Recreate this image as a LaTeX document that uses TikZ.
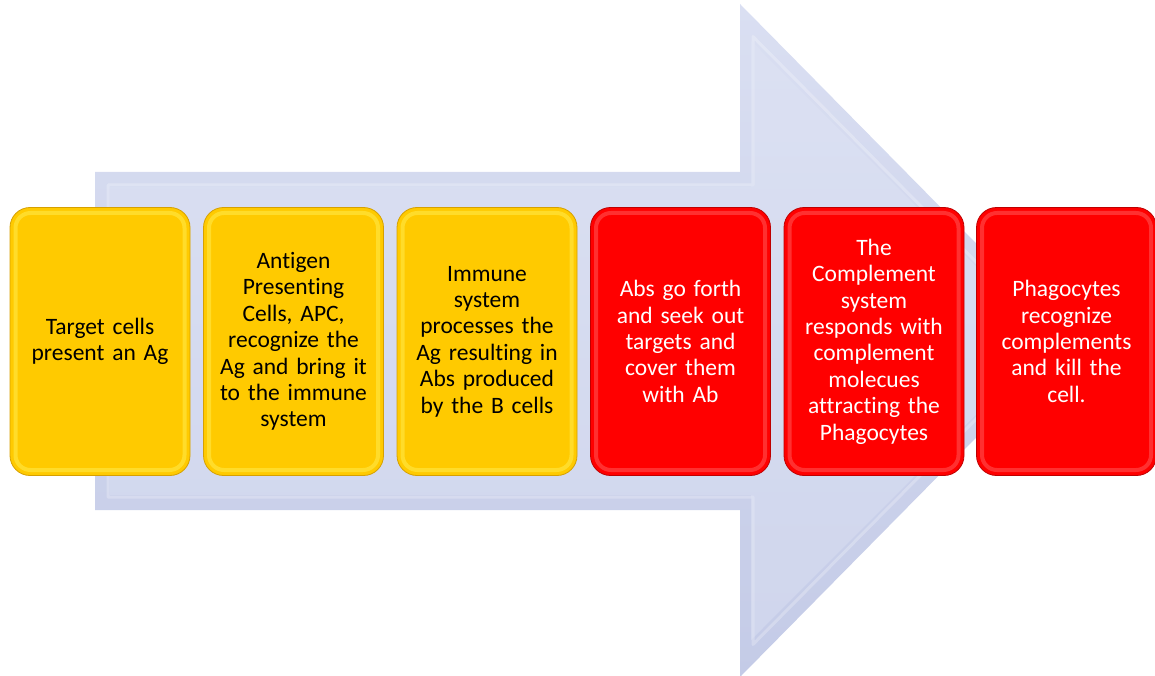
\documentclass[tikz,border=0pt]{standalone}
\usepackage{fontspec}
\setmainfont{Carlito}[RawFeature={-liga;-clig;-calt;-dlig}]
\begin{document}
\definecolor{arrowtop}{RGB}{218,223,242}
\definecolor{arrowbot}{RGB}{196,203,231}
\definecolor{arrowin}{RGB}{224,229,245}
\definecolor{ymain}{RGB}{255,202,0}
\definecolor{ylight}{RGB}{255,232,70}
\definecolor{yedge}{RGB}{214,160,0}
\definecolor{rmain}{RGB}{255,0,0}
\definecolor{rlight}{RGB}{255,80,80}
\definecolor{redge}{RGB}{190,0,0}
\tikzset{
  stepcard/.style={rectangle, rounded corners=20pt, minimum width=180pt,
    minimum height=268pt, text width=172pt, align=center, inner sep=0pt,
    line width=0.8pt, font=\fontsize{23.5}{26.4}\selectfont},
  bevel/.style={path picture={
    \draw[#1, line width=4pt, opacity=0.6, rounded corners=15pt]
      ([shift={(5.5pt,-5.5pt)}]path picture bounding box.north west) rectangle
      ([shift={(-5.5pt,5.5pt)}]path picture bounding box.south east);}},
  yellowcard/.style={stepcard, fill=ymain, draw=yedge, text=black, bevel=ylight},
  redcard/.style={stepcard, fill=rmain, draw=redge, text=white, bevel=rlight},
}
\begin{tikzpicture}[x=1pt, y=-1pt]
\useasboundingbox (0,0) rectangle (1155,676);
% large background arrow
\shade[top color=arrowtop, bottom color=arrowbot]
  (95,172) -- (740,172) -- (740,4) -- (1072,340.5) -- (740,677) -- (740,510)
  -- (95,510) -- cycle;
\draw[white, opacity=0.25, line width=3pt, line join=round]
  (108,185) -- (753,185) -- (753,36.6) -- (1053.8,340.5) -- (753,644.4)
  -- (753,497) -- (108,497) -- cycle;
\fill[arrowin, opacity=0.4]
  (110,187) -- (751,187) -- (751,41) -- (1050,340.5) -- (751,640)
  -- (751,495) -- (110,495) -- cycle;
% process steps
\node[yellowcard] (s1) at (100,341.5) {Target cells\\present an Ag};
\node[yellowcard] (s2) at (293.5,341.5) {Antigen\\Presenting\\Cells, APC,\\recognize the\\Ag and bring it\\to the immune\\system};
\node[yellowcard] (s3) at (487,341.5) {Immune\\system\\processes the\\Ag resulting in\\Abs produced\\by the B cells};
\node[redcard] (s4) at (680.5,341.5) {Abs go forth\\and seek out\\targets and\\cover them\\with Ab};
\node[redcard] (s5) at (874,341.5) {The\\Complement\\system\\responds with\\complement\\molecues\\attracting the\\Phagocytes};
\node[redcard] (s6) at (1066.5,341.5) {Phagocytes\\recognize\\complements\\and kill the\\cell.};
\end{tikzpicture}
\end{document}
